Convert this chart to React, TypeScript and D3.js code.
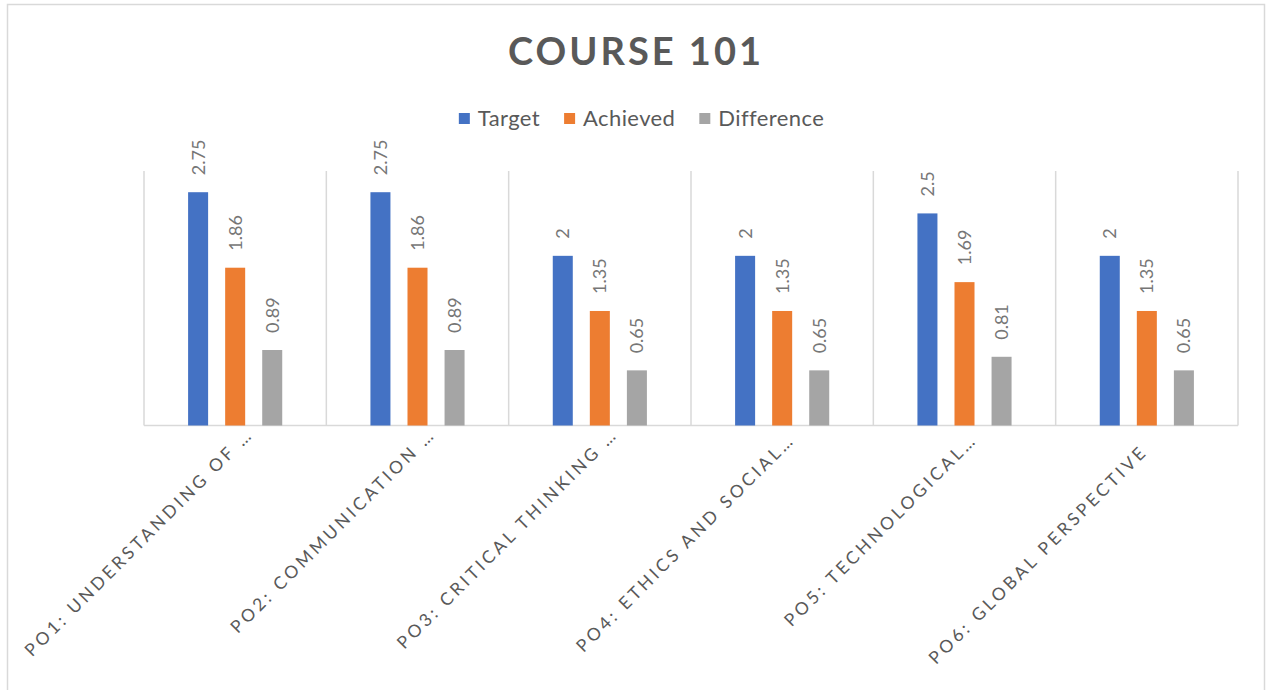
import React, { useEffect, useRef } from "react";
import * as d3 from "d3";

const categories = [
  "PO1: UNDERSTANDING OF …",
  "PO2: COMMUNICATION …",
  "PO3: CRITICAL THINKING …",
  "PO4: ETHICS AND SOCIAL…",
  "PO5: TECHNOLOGICAL…",
  "PO6: GLOBAL PERSPECTIVE",
];
const seriesNames = ["Target", "Achieved", "Difference"];
const targetValues = [2.75, 2.75, 2, 2, 2.5, 2];
const achievedValues = [1.86, 1.86, 1.35, 1.35, 1.69, 1.35];
const differenceValues = [0.89, 0.89, 0.65, 0.65, 0.81, 0.65];
const seriesColors = ["#4472C4", "#ED7D31", "#A5A5A5"];
const yDomain = [0, 3];
const chartTitle = "COURSE 101";

const W = 1268;
const H = 690;

export default function App() {
  const ref = useRef<SVGSVGElement | null>(null);

  useEffect(() => {
    const svg = d3.select(ref.current);
    svg.selectAll("*").remove();
    const font = "Lato, 'Open Sans', sans-serif";

    const values = [targetValues, achievedValues, differenceValues];
    const plot = { left: 144, right: 1238, top: 171, bottom: 425.5 };

    // outer border
    svg
      .append("rect")
      .attr("x", 7.5)
      .attr("y", 4.5)
      .attr("width", 1257)
      .attr("height", 700)
      .attr("fill", "#fff")
      .attr("stroke", "#d9d9d9")
      .attr("stroke-width", 1.5);

    const x0 = d3.scaleBand<string>().domain(categories).range([plot.left, plot.right]);
    const x1 = d3
      .scaleBand<string>()
      .domain(seriesNames)
      .range([0, x0.bandwidth()])
      .paddingInner(0.46)
      .paddingOuter(1.19);
    const y = d3.scaleLinear().domain(yDomain).range([plot.bottom, plot.top]);

    // vertical gridlines (category separators)
    const bounds = categories.map((c) => x0(c)!).concat([plot.right]);
    svg
      .append("g")
      .selectAll("line")
      .data(bounds)
      .join("line")
      .attr("x1", (d) => d)
      .attr("x2", (d) => d)
      .attr("y1", y(yDomain[1]))
      .attr("y2", y(0))
      .attr("stroke", "#d9d9d9")
      .attr("stroke-width", 1.5);

    // baseline
    svg
      .append("line")
      .attr("x1", plot.left)
      .attr("x2", plot.right)
      .attr("y1", y(0))
      .attr("y2", y(0))
      .attr("stroke", "#d9d9d9")
      .attr("stroke-width", 1.5);

    // bars
    const groups = svg
      .append("g")
      .selectAll("g")
      .data(categories)
      .join("g")
      .attr("transform", (c) => `translate(${x0(c)},0)`);

    seriesNames.forEach((s, si) => {
      groups
        .append("rect")
        .attr("x", x1(s)!)
        .attr("width", x1.bandwidth())
        .attr("y", (_c, i) => y(values[si][i]))
        .attr("height", (_c, i) => y(0) - y(values[si][i]))
        .attr("fill", seriesColors[si]);

      groups
        .append("text")
        .attr(
          "transform",
          (_c, i) =>
            `translate(${x1(s)! + x1.bandwidth() / 2 + 6.5},${y(values[si][i]) - 17}) rotate(-90)`
        )
        .attr("text-anchor", "start")
        .attr("font-family", font)
        .attr("font-size", 18)
        .attr("fill", "#767676")
        .text((_c, i) => String(values[si][i]));
    });

    // category labels: main part ends at the tick, the ellipsis hangs beyond
    const split = (c: string) => {
      const m = c.match(/^(.*?)(\s*…)$/);
      return m ? { main: m[1], suffix: m[2] } : { main: c, suffix: "" };
    };
    const labelG = svg
      .append("g")
      .selectAll("g")
      .data(categories)
      .join("g")
      .attr(
        "transform",
        (c) => `translate(${x0(c)! + x0.bandwidth() / 2 + 2},${y(0) + 27}) rotate(-45)`
      )
      .attr("font-family", font)
      .attr("font-size", 17.5)
      .attr("letter-spacing", 3.3)
      .attr("fill", "#595959");
    labelG
      .append("text")
      .attr("text-anchor", "end")
      .text((c) => split(c).main);
    labelG
      .append("text")
      .attr("text-anchor", "start")
      .attr("xml:space", "preserve")
      .style("white-space", "pre")
      .text((c) => split(c).suffix);

    // title
    svg
      .append("text")
      .attr("x", 636)
      .attr("y", 65)
      .attr("text-anchor", "middle")
      .attr("font-family", font)
      .attr("font-size", 38)
      .attr("font-weight", "bold")
      .attr("letter-spacing", 3)
      .attr("fill", "#595959")
      .text(chartTitle);

    // legend
    const legend = svg.append("g");
    const sq = 11;
    const gapSqText = 8;
    const gapItems = 24;
    let cursor = 0;
    const items = seriesNames.map((s, i) => {
      const g = legend.append("g");
      g.append("rect")
        .attr("x", 0)
        .attr("y", -sq / 2)
        .attr("width", sq)
        .attr("height", sq)
        .attr("fill", seriesColors[i]);
      const t = g
        .append("text")
        .attr("x", sq + gapSqText)
        .attr("y", 7.5)
        .attr("font-family", font)
        .attr("font-size", 22)
        .attr("letter-spacing", 0.4)
        .attr("fill", "#595959")
        .text(s);
      const w = (t.node() as SVGTextElement).getComputedTextLength();
      const start = cursor;
      cursor += sq + gapSqText + w + gapItems;
      return { g, start };
    });
    const total = cursor - gapItems;
    const lx = 641.5 - total / 2;
    items.forEach(({ g, start }) => g.attr("transform", `translate(${lx + start},118.5)`));
  }, []);

  return (
    <svg
      ref={ref}
      width={W}
      height={H}
      style={{ position: "absolute", left: 0, top: 0, display: "block", background: "#fff" }}
    />
  );
}
